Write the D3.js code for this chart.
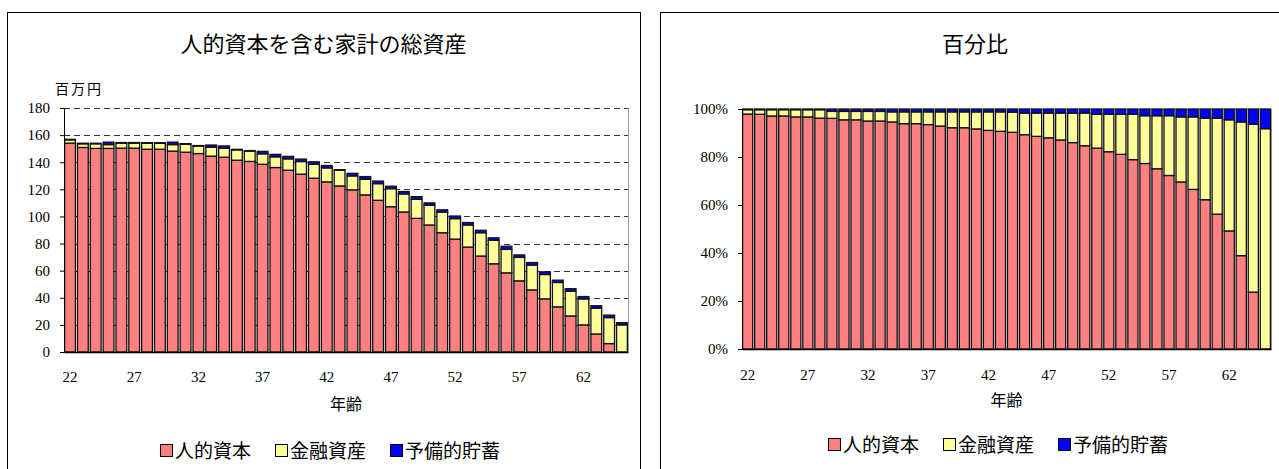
<!DOCTYPE html>
<html>
<head>
<meta charset="utf-8">
<script src="https://cdn.jsdelivr.net/npm/d3@7"></script>
<style>
	body { margin: 0; background: #fff; }
</style>
</head>
<body>
<div id="chart"></div>
<script>
const SERIF = "'Liberation Serif', 'DejaVu Serif', serif"
const JP = "'Noto Sans CJK JP', sans-serif"

// categories
const ages = [22, 23, 24, 25, 26, 27, 28, 29, 30, 31, 32, 33, 34, 35, 36, 37, 38, 39, 40, 41, 42, 43,
	44, 45, 46, 47, 48, 49, 50, 51, 52, 53, 54, 55, 56, 57, 58, 59, 60, 61, 62, 63, 64, 65]
const ageTicks = [22, 27, 32, 37, 42, 47, 52, 57, 62]

// left chart, million yen
const humanCapital = [154.1, 150.9, 150.2, 150.2, 150.4, 150.4, 149.6, 149.6, 148.2, 147.4, 146.4, 144.5,
	143.7, 141.5, 140.6, 138.5, 136.1, 134.1, 131.2, 128.2, 125.5, 122.5, 119.6, 115.9, 111.9, 107.2,
	103.3, 98.6, 93.7, 88.0, 83.3, 77.4, 70.8, 65.1, 58.4, 52.5, 45.8, 39.2, 33.3, 26.6, 20.0, 13.3, 6.2, 0]
const financialAssets = [2.4, 2.7, 3.4, 2.8, 3.7, 3.7, 4.4, 4.4, 4.8, 5.9, 5.5, 6.6, 6.7, 7.6, 7.6, 7.7,
	7.9, 8.4, 9.3, 10.3, 10.3, 11.6, 10.3, 11.6, 12.3, 13.3, 13.3, 14.1, 14.5, 15.1, 15.1, 16.3, 17.2,
	17.3, 17.3, 17.3, 18.3, 18.0, 18.0, 18.3, 19.2, 19.0, 19.2, 20.0]
const precautionary = [0.4, 0.4, 0.4, 1.8, 0.4, 0.4, 0.4, 0.4, 1.8, 0.4, 0.4, 1.6, 1.6, 0.4, 0.4, 1.8,
	1.8, 1.8, 1.8, 1.8, 1.8, 0.4, 1.9, 1.9, 1.9, 1.8, 1.8, 1.9, 1.8, 1.8, 1.9, 1.8, 1.8, 1.8, 2.3, 1.8,
	1.9, 1.9, 1.7, 1.8, 1.7, 1.8, 1.8, 1.6]
const amountTicks = [0, 20, 40, 60, 80, 100, 120, 140, 160, 180]

// right chart, percent
const humanPct = [97.9, 97.8, 97.1, 97.1, 96.7, 96.7, 96.2, 96.1, 95.5, 95.5, 95.0, 95.0, 94.6, 93.9,
	93.9, 93.5, 92.9, 92.2, 92.2, 91.7, 91.1, 90.7, 90.3, 89.3, 88.6, 88.0, 87.1, 86.0, 84.7, 83.7, 82.2,
	81.1, 78.9, 77.3, 75.1, 72.3, 69.6, 66.5, 62.2, 56.2, 49.2, 38.9, 23.7, 0]
const financialPct = [1.8, 1.9, 2.6, 2.6, 3.0, 3.0, 3.5, 2.9, 3.5, 3.5, 4.0, 4.0, 4.2, 4.9, 4.9, 5.3,
	5.9, 6.6, 6.6, 7.1, 7.7, 8.1, 8.4, 9.0, 9.7, 10.3, 11.2, 12.3, 13.6, 14.1, 15.6, 16.7, 18.9, 19.9,
	22.1, 24.9, 27.1, 30.2, 34.0, 40.0, 46.3, 55.7, 69.9, 91.8]
const precautionaryPct = [0.3, 0.3, 0.3, 0.3, 0.3, 0.3, 0.3, 1.0, 1.0, 1.0, 1.0, 1.0, 1.2, 1.2, 1.2,
	1.2, 1.2, 1.2, 1.2, 1.2, 1.2, 1.2, 1.3, 1.7, 1.7, 1.7, 1.7, 1.7, 1.7, 2.2, 2.2, 2.2, 2.2, 2.8, 2.8,
	2.8, 3.3, 3.3, 3.8, 3.8, 4.5, 5.4, 6.4, 8.2]
const shareTicks = [0, 20, 40, 60, 80, 100]

const seriesNames = ['人的資本', '金融資産', '予備的貯蓄']
const seriesColors = ['#FF8080', '#FFFF99', '#0000FF']

const svg = d3.select('#chart').append('svg')
	.attr('width', 1279)
	.attr('height', 469)

class StackedBars {
	constructor(params) {
		this.attrs = Object.assign(
			{
				frame: { left: 0, top: 0, right: 100 },
				plot: { left: 0, right: 100, top: 0, bottom: 100 },
				title: '',
				titleY: 50,
				unit: null,
				series: [],
				yMax: 100,
				yTicks: [],
				yFormat: d => d,
				grid: false,
				xLabelY: 380,
				xTitleY: 408,
				legendY: 455,
				legendCenter: 0,
			},
			params
		)
		this.main()
	}

	main() {
		const { attrs } = this
		const { plot } = attrs

		this.g = svg.append('g')

		// outer frame
		this.g.append('rect')
			.attr('x', attrs.frame.left + 0.5)
			.attr('y', attrs.frame.top + 0.5)
			.attr('width', attrs.frame.right - attrs.frame.left)
			.attr('height', 520)
			.attr('fill', 'none')
			.attr('stroke', '#000')

		this.g.append('text')
			.attr('font-family', JP)
			.attr('x', (attrs.frame.left + attrs.frame.right) / 2)
			.attr('y', attrs.titleY)
			.attr('text-anchor', 'middle')
			.attr('font-size', 22)
			.text(attrs.title)

		this.x = d3.scaleBand()
			.domain(ages)
			.range([plot.left, plot.right])
			.paddingInner(0.16)
			.paddingOuter(0.05)

		this.y = d3.scaleLinear()
			.domain([0, attrs.yMax])
			.range([plot.bottom, plot.top])

		// plot border (top only when there is no grid)
		if (!attrs.grid) {
			this.g.append('line')
				.attr('x1', plot.left).attr('x2', plot.right)
				.attr('y1', plot.top + 0.5).attr('y2', plot.top + 0.5)
				.attr('stroke', '#999')
		}
		this.g.append('line')
			.attr('x1', plot.right + 0.5).attr('x2', plot.right + 0.5)
			.attr('y1', plot.top).attr('y2', plot.bottom)
			.attr('stroke', '#999')

		if (attrs.grid) {
			this.g.append('g')
				.selectAll('line')
				.data(attrs.yTicks.filter(d => d > 0))
				.join('line')
				.attr('x1', plot.left)
				.attr('x2', plot.right)
				.attr('y1', d => Math.round(this.y(d)) + 0.5)
				.attr('y2', d => Math.round(this.y(d)) + 0.5)
				.attr('stroke', '#333')
				.attr('stroke-dasharray', '6,4')
		}

		this.drawBars()
		this.drawAxes()
		this.drawLegend()
	}

	drawBars() {
		const { attrs } = this
		const keys = ['a', 'b', 'c']
		const rows = ages.map((age, i) => ({
			age,
			a: attrs.series[0][i],
			b: attrs.series[1][i],
			c: attrs.series[2][i],
		}))
		const stacked = d3.stack().keys(keys)(rows)

		this.g.append('g')
			.selectAll('g')
			.data(stacked)
			.join('g')
			.attr('fill', (d, i) => seriesColors[i])
			.selectAll('rect')
			.data(d => d.filter(p => p[1] - p[0] > 0))
			.join('rect')
			.attr('x', d => this.x(d.data.age))
			.attr('width', this.x.bandwidth())
			.attr('y', d => this.y(d[1]))
			.attr('height', d => this.y(d[0]) - this.y(d[1]))
			.attr('stroke', '#111')
			.attr('stroke-width', 1.3)
	}

	drawAxes() {
		const { attrs } = this
		const { plot } = attrs

		const yAxis = this.g.append('g')
			.attr('transform', `translate(${plot.left},0)`)
			.call(
				d3.axisLeft(this.y)
					.tickValues(attrs.yTicks)
					.tickFormat(attrs.yFormat)
					.tickSize(4)
					.tickSizeOuter(0)
					.tickPadding(10)
			)
			.attr('font-family', SERIF)
			.attr('font-size', 15)
		yAxis.select('.domain').attr('stroke', '#000')
		yAxis.selectAll('text').attr('fill', '#000')

		const xAxis = this.g.append('g')
			.attr('transform', `translate(0,${plot.bottom})`)
			.call(
				d3.axisBottom(this.x)
					.tickValues(ageTicks)
					.tickSize(0)
					.tickSizeOuter(0)
					.tickPadding(attrs.xLabelY - plot.bottom - 12)
			)
			.attr('font-family', SERIF)
			.attr('font-size', 15)
		xAxis.select('.domain').attr('stroke', '#000').attr('stroke-width', 1.5)
		xAxis.selectAll('text').attr('fill', '#000')

		this.g.append('text')
			.attr('font-family', JP)
			.attr('x', (plot.left + plot.right) / 2)
			.attr('y', attrs.xTitleY)
			.attr('text-anchor', 'middle')
			.attr('font-size', 16)
			.text('年齢')

		if (attrs.unit) {
			this.g.append('text')
				.attr('font-family', JP)
				.attr('x', attrs.unit.x)
				.attr('y', attrs.unit.y)
				.attr('font-size', 14)
				.attr('letter-spacing', 2)
				.text(attrs.unit.text)
		}
	}

	drawLegend() {
		const { attrs } = this
		const legend = this.g.append('g')
		const gap = 24
		let cursor = 0

		seriesNames.forEach((name, i) => {
			const item = legend.append('g').attr('transform', `translate(${cursor},0)`)
			item.append('rect')
				.attr('x', 0.5)
				.attr('y', -13.5)
				.attr('width', 12)
				.attr('height', 12)
				.attr('fill', seriesColors[i])
				.attr('stroke', '#000')
			const label = item.append('text')
				.attr('font-family', JP)
				.attr('x', 15)
				.attr('y', 0)
				.attr('font-size', 19)
				.text(name)
			cursor += 15 + label.node().getComputedTextLength() + gap
		})

		const width = cursor - gap
		legend.attr('transform', `translate(${attrs.legendCenter - width / 2},${attrs.legendY})`)
	}
}

new StackedBars({
	frame: { left: 7, top: 12, right: 640 },
	plot: { left: 64, right: 628, top: 108, bottom: 352 },
	title: '人的資本を含む家計の総資産',
	titleY: 52,
	unit: { text: '百万円', x: 55, y: 94 },
	series: [humanCapital, financialAssets, precautionary],
	yMax: 180,
	yTicks: amountTicks,
	grid: true,
	xLabelY: 383,
	xTitleY: 410,
	legendY: 458,
	legendCenter: 330,
})

new StackedBars({
	frame: { left: 660, top: 12, right: 1290 },
	plot: { left: 742, right: 1271, top: 109, bottom: 349 },
	title: '百分比',
	titleY: 52,
	series: [humanPct, financialPct, precautionaryPct],
	yMax: 100,
	yTicks: shareTicks,
	yFormat: d => d + '%',
	grid: false,
	xLabelY: 381,
	xTitleY: 406,
	legendY: 452,
	legendCenter: 998,
})
</script>
</body>
</html>
